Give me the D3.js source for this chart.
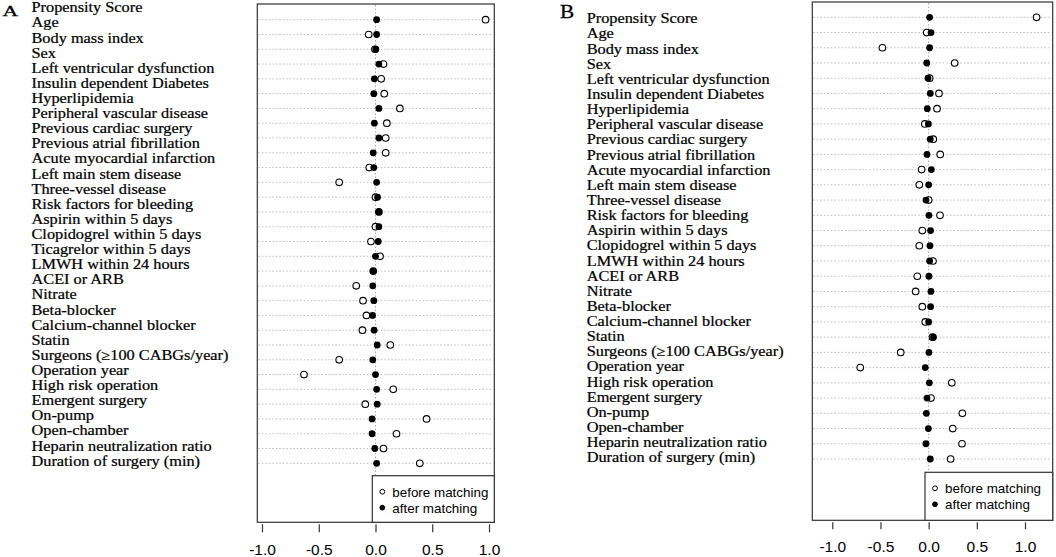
<!DOCTYPE html>
<html>
<head>
<meta charset="utf-8">
<script src="https://cdn.jsdelivr.net/npm/d3@7"></script>
<style>
  body { margin: 0; background: #fff; }
</style>
</head>
<body>
<svg id="chart" width="1056" height="557"></svg>
<script>
// covariates, panel A (31 rows) and panel B (30 rows, no Ticagrelor)
const labelsA = [
  "Propensity Score", "Age", "Body mass index", "Sex", "Left ventricular dysfunction",
  "Insulin dependent Diabetes", "Hyperlipidemia", "Peripheral vascular disease",
  "Previous cardiac surgery", "Previous atrial fibrillation", "Acute myocardial infarction",
  "Left main stem disease", "Three-vessel disease", "Risk factors for bleeding",
  "Aspirin within 5 days", "Clopidogrel within 5 days", "Ticagrelor within 5 days",
  "LMWH within 24 hours", "ACEI or ARB", "Nitrate", "Beta-blocker", "Calcium-channel blocker",
  "Statin", "Surgeons (\u2265100 CABGs/year)", "Operation year", "High risk operation",
  "Emergent surgery", "On-pump", "Open-chamber", "Heparin neutralization ratio",
  "Duration of surgery (min)"
];
const beforeA = [0.97, -0.06, -0.005, 0.07, 0.05, 0.077, 0.215, 0.10, 0.09, 0.09, -0.055,
  -0.32, 0.0, 0.03, 0.0, -0.04, 0.04, -0.02, -0.17, -0.11, -0.08, -0.115, 0.13, -0.32,
  -0.63, 0.156, -0.09, 0.45, 0.185, 0.07, 0.39];
const afterA = [0.01, 0.01, 0.003, 0.03, -0.01, -0.015, 0.03, -0.01, 0.03, -0.02, -0.015,
  0.01, 0.018, 0.03, 0.03, 0.024, 0.0, -0.02, -0.024, -0.015, -0.026, -0.012, 0.015, -0.024,
  0.0, 0.01, 0.015, -0.03, -0.03, -0.006, 0.01];

const labelsB = labelsA.filter(d => d !== "Ticagrelor within 5 days");
const beforeB = [1.12, -0.02, -0.48, 0.27, 0.01, 0.107, 0.087, -0.04, 0.048, 0.12, -0.073,
  -0.097, 0.0, 0.118, -0.066, -0.097, 0.045, -0.118, -0.135, -0.066, -0.035, 0.04, -0.29,
  -0.71, 0.24, 0.024, 0.35, 0.25, 0.346, 0.228];
const afterB = [0.01, 0.025, 0.01, -0.02, -0.007, 0.017, -0.014, -0.003, 0.017, -0.017, 0.028,
  0.0, -0.028, 0.003, 0.02, 0.014, 0.01, 0.003, 0.024, 0.02, 0.0, 0.05, 0.003,
  -0.035, 0.007, -0.017, -0.024, -0.003, -0.028, 0.017];

const xTicks = [-1, -0.5, 0, 0.5, 1];
const legendLabels = ["before matching", "after matching"];

const svg = d3.select('#chart');
const serif = '"Liberation Serif", "Times New Roman", serif';
const sans = '"Liberation Sans", Arial, sans-serif';

const drawPanel = (p) => {
  const x = d3.scaleLinear().domain([-1, 1]).range([p.xMin, p.xMax]);
  const y = d3.scalePoint().domain(d3.range(p.before.length)).range([p.rowTop, p.rowBottom]);
  const yLab = d3.scalePoint().domain(d3.range(p.labels.length)).range([p.labTop, p.labBottom]);
  const g = svg.append('g');

  g.append('text')
    .attr('transform', `translate(${p.letterX},${p.letterY}) scale(${p.letterScale},1)`)
    .attr('font-family', serif)
    .attr('font-size', p.letterSize)
    .attr('stroke', '#000').attr('stroke-width', 0.3)
    .text(p.letter);

  g.selectAll('text.lab')
    .data(p.labels)
    .join('text')
    .attr('class', 'lab')
    .attr('transform', (d, i) => `translate(${p.labX},${yLab(i)}) scale(1.165,1)`)
    .attr('font-family', serif)
    .attr('font-size', 14)
    .attr('stroke', '#000').attr('stroke-width', 0.22)
    .text(d => d);

  // dotted grid
  g.selectAll('line.grid')
    .data(p.before)
    .join('line')
    .attr('x1', p.boxLeft + 1).attr('x2', p.boxRight - 1)
    .attr('y1', (d, i) => y(i)).attr('y2', (d, i) => y(i))
    .attr('stroke', '#b5b5b5').attr('stroke-width', 0.9)
    .attr('stroke-dasharray', '1.5,2');
  g.append('line')
    .attr('x1', x(0)).attr('x2', x(0))
    .attr('y1', p.boxTop + 1).attr('y2', p.boxBottom - 1)
    .attr('stroke', '#a0a0a0').attr('stroke-width', 0.9)
    .attr('stroke-dasharray', '1.5,2');

  g.selectAll('circle.before')
    .data(p.before)
    .join('circle')
    .attr('cx', d => x(d)).attr('cy', (d, i) => y(i)).attr('r', 3.3)
    .attr('fill', '#fff').attr('stroke', '#000').attr('stroke-width', 1.1);
  g.selectAll('circle.after')
    .data(p.after)
    .join('circle')
    .attr('cx', d => x(d)).attr('cy', (d, i) => y(i)).attr('r', 3.4)
    .attr('fill', '#000');

  g.append('rect')
    .attr('x', p.boxLeft).attr('y', p.boxTop)
    .attr('width', p.boxRight - p.boxLeft).attr('height', p.boxBottom - p.boxTop)
    .attr('fill', 'none').attr('stroke', '#333').attr('stroke-width', 1.2);

  const axis = g.append('g')
    .attr('transform', `translate(0,${p.boxBottom})`)
    .call(d3.axisBottom(x).tickValues(xTicks).tickFormat(d => d.toFixed(1))
      .tickSize(p.tickLen).tickPadding(12));
  axis.select('.domain').remove();
  axis.selectAll('.tick line').attr('y1', 2).attr('stroke', '#333').attr('stroke-width', 1.2);
  axis.selectAll('.tick text')
    .attr('font-family', sans).attr('font-size', 15.5).attr('fill', '#000');

  // legend
  const lg = g.append('g');
  lg.append('rect')
    .attr('x', p.legLeft).attr('y', p.legTop)
    .attr('width', p.boxRight - p.legLeft).attr('height', p.boxBottom - p.legTop)
    .attr('fill', '#fff').attr('stroke', '#333').attr('stroke-width', 1.2);
  const items = lg.selectAll('g.item')
    .data(legendLabels)
    .join('g')
    .attr('transform', (d, i) => `translate(${p.legLeft + 10},${p.legTop + 16 + i * 16})`);
  items.append('circle')
    .attr('r', 2.4)
    .attr('fill', (d, i) => i === 0 ? '#fff' : '#000')
    .attr('stroke', '#000').attr('stroke-width', 1);
  items.append('text')
    .attr('x', 10).attr('y', 5)
    .attr('font-family', sans).attr('font-size', 13.4)
    .text(d => d);
};

drawPanel({
  letter: 'A', letterX: 2.5, letterY: 16, letterSize: 14, letterScale: 1.55,
  labels: labelsA, before: beforeA, after: afterA,
  labX: 31.5, labTop: 12.3, labBottom: 465.7,
  rowTop: 19.7, rowBottom: 463.3,
  xMin: 262, xMax: 489,
  boxLeft: 257.3, boxRight: 494.3, boxTop: 4, boxBottom: 522.3,
  tickLen: 10, legLeft: 372.3, legTop: 475.7
});

drawPanel({
  letter: 'B', letterX: 560, letterY: 18.3, letterSize: 18.5, letterScale: 1.15,
  labels: labelsB, before: beforeB, after: afterB,
  labX: 586.7, labTop: 23.3, labBottom: 462.3,
  rowTop: 17.3, rowBottom: 459,
  xMin: 832.3, xMax: 1025,
  boxLeft: 812.3, boxRight: 1052.7, boxTop: 2, boxBottom: 520.3,
  tickLen: 9, legLeft: 925, legTop: 472.3
});
</script>
</body>
</html>
